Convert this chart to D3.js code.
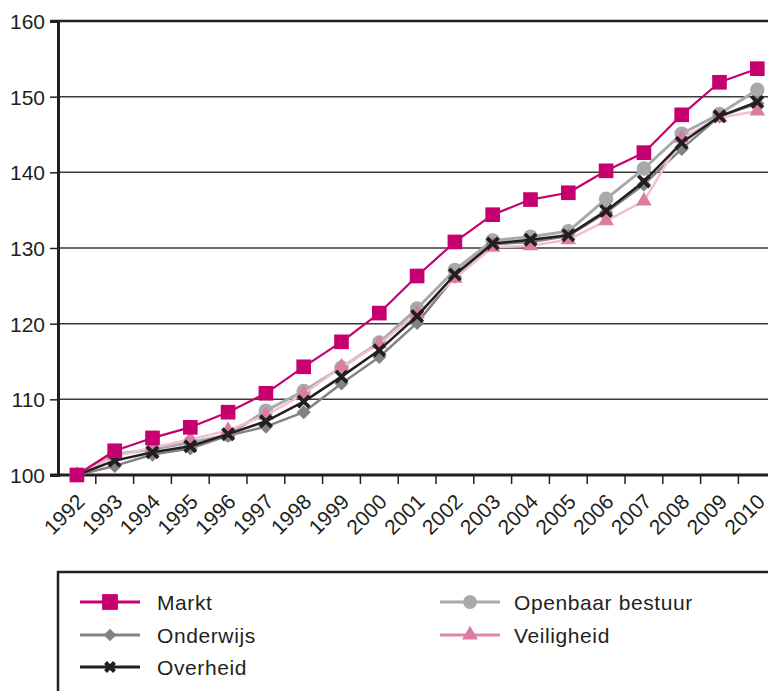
<!DOCTYPE html>
<html>
<head>
<meta charset="utf-8">
<script src="https://cdn.jsdelivr.net/npm/d3@7"></script>
<style>
  html, body { margin: 0; padding: 0; background: #fff; overflow: hidden; }
  svg { display: block; font-family: "Liberation Sans", Arial, sans-serif; }
</style>
</head>
<body>
<div id="chart"></div>
<script>
// data (index, 1992 = 100)
const years = ["1992", "1993", "1994", "1995", "1996", "1997", "1998", "1999", "2000", "2001",
  "2002", "2003", "2004", "2005", "2006", "2007", "2008", "2009", "2010"];
const markt = [100, 103.2, 104.9, 106.3, 108.3, 110.8, 114.3, 117.6, 121.4, 126.3,
  130.8, 134.4, 136.4, 137.3, 140.2, 142.6, 147.6, 151.9, 153.7];
const openbaarBestuur = [100, 102.7, 103.4, 104.3, 105.3, 108.5, 111.1, 114.2, 117.5, 122.0,
  127.1, 131.0, 131.5, 132.2, 136.5, 140.5, 145.1, 147.7, 150.9];
const onderwijs = [100, 101.2, 102.7, 103.5, 105.2, 106.4, 108.3, 112.1, 115.6, 120.1,
  126.2, 130.5, 130.8, 131.6, 134.7, 138.4, 143.1, 147.4, 149.1];
const overheid = [100, 101.9, 103.0, 103.8, 105.4, 107.1, 109.7, 113.0, 116.5, 121.0,
  126.5, 130.6, 131.1, 131.7, 134.9, 138.8, 143.9, 147.4, 149.3];
const veiligheid = [100, 102.5, 103.6, 104.7, 105.9, 107.9, 110.7, 114.3, 117.3, 121.3,
  126.0, 130.1, 130.3, 131.1, 133.6, 136.2, 144.5, 147.2, 148.1];
const yTicks = [100, 110, 120, 130, 140, 150, 160];

const series = [
  { name: "Openbaar bestuur", values: openbaarBestuur, line: "#a7a9ac", lw: 3, marker: "#a7a9ac", legendLine: "#a7a9ac", symbol: "circle", col: 1, row: 0 },
  { name: "Onderwijs", values: onderwijs, line: "#808285", lw: 2.5, marker: "#808285", legendLine: "#808285", symbol: "diamond", col: 0, row: 1 },
  { name: "Veiligheid", values: veiligheid, line: "#f2bfd1", lw: 2.5, marker: "#dc7ca3", legendLine: "#e088ab", symbol: "triangle", col: 1, row: 1 },
  { name: "Overheid", values: overheid, line: "#231f20", lw: 2.5, marker: "#231f20", legendLine: "#231f20", symbol: "x", col: 0, row: 2 },
  { name: "Markt", values: markt, line: "#c6006f", lw: 2.2, marker: "#c6006f", legendLine: "#c6006f", symbol: "square", col: 0, row: 0 }
];

const W = 768, H = 691;
const plotLeft = 58, plotTop = 21, plotBottom = 475;
const band = 37.8;

const svg = d3.select("#chart").append("svg").attr("width", W).attr("height", H);

const x = d3.scaleBand().domain(years).range([plotLeft, plotLeft + band * years.length]).padding(0);
const y = d3.scaleLinear().domain([100, 160]).range([plotBottom, plotTop]);

// gridlines
svg.append("g")
  .selectAll("line")
  .data(yTicks.filter(d => d > 100 && d < 160))
  .enter()
  .append("line")
  .attr("x1", plotLeft).attr("x2", W)
  .attr("y1", d => y(d)).attr("y2", d => y(d))
  .attr("stroke", "#3a3a3a")
  .attr("stroke-width", 1.5);

// top border
svg.append("line")
  .attr("x1", plotLeft - 8).attr("x2", W)
  .attr("y1", y(160)).attr("y2", y(160))
  .attr("stroke", "#231f20").attr("stroke-width", 2.5);

// y axis
const yAxis = svg.append("g")
  .attr("transform", "translate(" + plotLeft + ",0)")
  .call(d3.axisLeft(y).tickValues(yTicks).tickSize(8).tickPadding(5));
yAxis.select(".domain").attr("stroke", "#231f20").attr("stroke-width", 3);
yAxis.selectAll(".tick line").attr("stroke", "#231f20").attr("stroke-width", 1.5);
yAxis.selectAll(".tick text")
  .attr("fill", "#231f20")
  .style("font-size", "21px")
  .attr("dy", "0.36em");

// x axis: ticks between bands
const xg = svg.append("g").attr("transform", "translate(0," + plotBottom + ")");
xg.append("line")
  .attr("x1", plotLeft - 8).attr("x2", W)
  .attr("stroke", "#231f20").attr("stroke-width", 3);
xg.selectAll(".xt")
  .data(years.slice(1))
  .enter()
  .append("line")
  .attr("class", "xt")
  .attr("x1", d => x(d)).attr("x2", d => x(d))
  .attr("y1", 0).attr("y2", 9)
  .attr("stroke", "#231f20").attr("stroke-width", 1.5);
xg.selectAll(".xl")
  .data(years)
  .enter()
  .append("text")
  .attr("class", "xl")
  .attr("transform", d => "translate(" + (x(d) + x.bandwidth() / 2 + 9) + ",28) rotate(-45)")
  .attr("text-anchor", "end")
  .attr("fill", "#231f20")
  .style("font-size", "21px")
  .text(d => d);

function markerPath(kind, big) {
  if (kind === "square") return d3.symbol(d3.symbolSquare, big ? 250 : 215)();
  if (kind === "circle") return d3.symbol(d3.symbolCircle, big ? 150 : 165)();
  if (kind === "diamond") return d3.symbol(d3.symbolSquare, big ? 80 : 100)();
  if (kind === "triangle") return d3.symbol(d3.symbolTriangle, big ? 110 : 105)();
  return d3.symbol(d3.symbolX, big ? 55 : 85)();
}

function drawMarker(g, kind, color, big) {
  const p = g.append("path").attr("d", markerPath(kind, big));
  if (kind === "x") {
    p.attr("fill", "none").attr("stroke", color).attr("stroke-width", big ? 4 : 3.8);
  } else {
    p.attr("fill", color);
  }
  if (kind === "diamond") p.attr("transform", "rotate(45)");
  return p;
}

const line = d3.line()
  .x((d, i) => x(years[i]) + x.bandwidth() / 2)
  .y(d => y(d));

const plot = svg.append("g");
series.forEach(function (s) {
  const g = plot.append("g");
  g.append("path")
    .datum(s.values)
    .attr("fill", "none")
    .attr("stroke", s.line)
    .attr("stroke-width", s.lw)
    .attr("stroke-linejoin", "round")
    .attr("d", line);
  s.values.forEach(function (v, i) {
    const m = g.append("g")
      .attr("transform", "translate(" + (x(years[i]) + x.bandwidth() / 2) + "," + y(v) + ")");
    drawMarker(m, s.symbol, s.marker, false);
  });
});

// legend
svg.append("rect")
  .attr("x", 58).attr("y", 572)
  .attr("width", 760).attr("height", 200)
  .attr("fill", "none")
  .attr("stroke", "#231f20")
  .attr("stroke-width", 2.5);

const colX = [80, 440];
const rowY = [602, 635, 667];
series.forEach(function (s) {
  const lx = colX[s.col], ly = rowY[s.row];
  const g = svg.append("g").attr("transform", "translate(" + lx + "," + ly + ")");
  g.append("line")
    .attr("x1", 0).attr("x2", 60)
    .attr("stroke", s.legendLine)
    .attr("stroke-width", 3);
  const m = g.append("g").attr("transform", "translate(" + 30 + ",0)");
  drawMarker(m, s.symbol, s.marker, true);
  g.append("text")
    .attr("x", s.col === 0 ? 77 : 74)
    .attr("y", 0)
    .attr("dy", "0.36em")
    .attr("fill", "#231f20")
    .style("font-size", "21px")
    .style("letter-spacing", "0.6px")
    .text(s.name);
});
</script>
</body>
</html>
